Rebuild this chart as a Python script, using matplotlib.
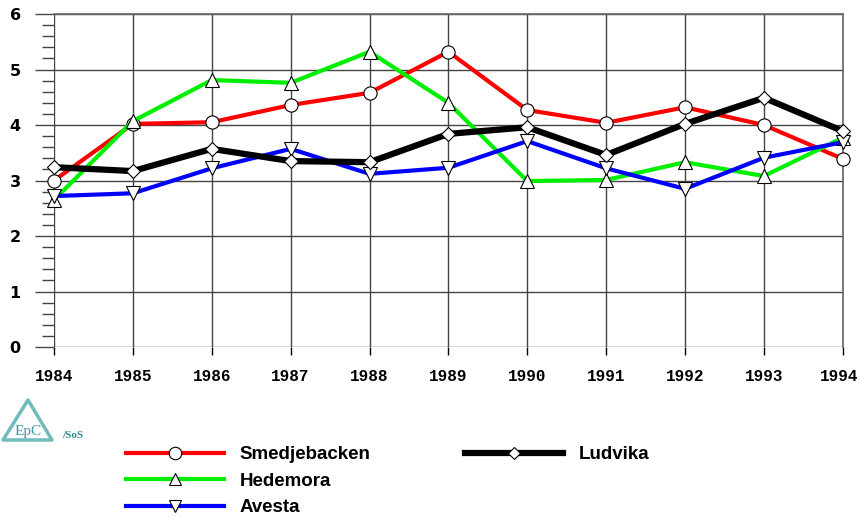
import matplotlib.pyplot as plt
import matplotlib.transforms as mtransforms
from matplotlib.lines import Line2D
from matplotlib.patches import Polygon

years = [1984, 1985, 1986, 1987, 1988, 1989, 1990, 1991, 1992, 1993, 1994]

smedjebacken = [3.00, 4.02, 4.05, 4.36, 4.58, 5.32, 4.27, 4.04, 4.32, 4.00, 3.39]
hedemora = [2.65, 4.07, 4.81, 4.76, 5.32, 4.40, 2.99, 3.01, 3.33, 3.08, 3.77]
avesta = [2.72, 2.77, 3.22, 3.57, 3.12, 3.23, 3.71, 3.22, 2.85, 3.41, 3.69]
ludvika = [3.24, 3.17, 3.57, 3.35, 3.33, 3.84, 3.96, 3.46, 4.02, 4.49, 3.89]

fig = plt.figure(figsize=(8.6, 5.17), dpi=100)
ax = fig.add_axes([0.0628, 0.3288, 0.9172, 0.6441])

ax.plot(years, smedjebacken, color="#ff0000", lw=3, marker="o", ms=9.5,
        mfc="white", mec="black", mew=0.8, zorder=3, clip_on=False)
ax.plot(years, hedemora, color="#00ee00", lw=3, marker="^", ms=10,
        mfc="white", mec="black", mew=0.8, zorder=3, clip_on=False)
ax.plot(years, avesta, color="#0000ff", lw=3, marker="v", ms=10,
        mfc="white", mec="black", mew=0.8, zorder=3, clip_on=False)
ax.plot(years, ludvika, color="black", lw=4.5, marker="D", ms=7,
        mfc="white", mec="black", mew=0.8, zorder=4, clip_on=False)

ax.set_xlim(1984, 1994)
ax.set_ylim(0, 6)
ax.set_xticks(years)
ax.set_yticks(range(0, 7))
ax.set_yticks([i / 5 for i in range(31)], minor=True)
ax.grid(True, which="major", color="#444444", lw=1)

for s in ["top", "right"]:
    ax.spines[s].set_color("#666666")
    ax.spines[s].set_linewidth(1.2)
ax.spines["left"].set_visible(False)
ax.spines["bottom"].set_visible(False)

ax.tick_params(axis="y", which="major", length=14, color="#444444", width=1, pad=10)
ax.tick_params(axis="y", which="minor", length=9, color="#444444", width=1)
ax.tick_params(axis="x", which="major", length=6, color="black", width=1, pad=10)

for lab in ax.get_yticklabels():
    lab.set_fontsize(11.5)
    lab.set_fontweight("bold")
    lab.set_family("DejaVu Sans")
xlabels = ax.get_xticklabels()
for lab in xlabels:
    lab.set_fontsize(11.5)
    lab.set_fontweight("bold")
    lab.set_family("Liberation Mono")
# nudge the last year label so it stays inside the figure
xlabels[-1].set_transform(xlabels[-1].get_transform()
                          + mtransforms.ScaledTranslation(-4 / 100, 0, fig.dpi_scale_trans))

# logo
W, H = 860, 517
pts = [(3 / W, 1 - 440 / H), (28 / W, 1 - 400 / H), (52 / W, 1 - 440 / H)]
logo = Polygon(pts, closed=True, transform=fig.transFigure, fill=False,
               ec="#6fbcbc", lw=2.5, joinstyle="round")
fig.add_artist(logo)
fig.text(28 / W, 1 - 431 / H, "EpC", color="#3a9a9a", fontsize=11, family="Liberation Serif",
         ha="center", va="center")
fig.text(62 / W, 1 - 435 / H, "/SoS", color="#2a8a8a", fontsize=8, family="Liberation Serif",
         fontweight="bold", ha="left", va="center")

h_s = Line2D([], [], color="#ff0000", lw=3, marker="o", ms=9, mfc="white", mec="black", mew=0.8)
h_h = Line2D([], [], color="#00ee00", lw=3, marker="^", ms=9, mfc="white", mec="black", mew=0.8)
h_a = Line2D([], [], color="#0000ff", lw=3, marker="v", ms=9, mfc="white", mec="black", mew=0.8)
h_l = Line2D([], [], color="black", lw=4.5, marker="D", ms=6, mfc="white", mec="black", mew=0.8)

leg_font = {"family": "Liberation Sans", "weight": "bold", "size": 13.5}
leg1 = fig.legend([h_s, h_h, h_a], ["Smedjebacken", "Hedemora", "Avesta"],
                  loc="upper left", frameon=False, prop=leg_font, handlelength=5.2,
                  handletextpad=0.85, labelspacing=0.5, borderaxespad=0, borderpad=0)
leg1.set_bbox_to_anchor((0.147, 0.137), transform=fig.transFigure)
leg2 = fig.legend([h_l], ["Ludvika"], loc="upper left", frameon=False, prop=leg_font,
                  handlelength=5.2, handletextpad=0.85, borderaxespad=0, borderpad=0)
leg2.set_bbox_to_anchor((0.541, 0.137), transform=fig.transFigure)

fig.savefig("out.png", dpi=100)
